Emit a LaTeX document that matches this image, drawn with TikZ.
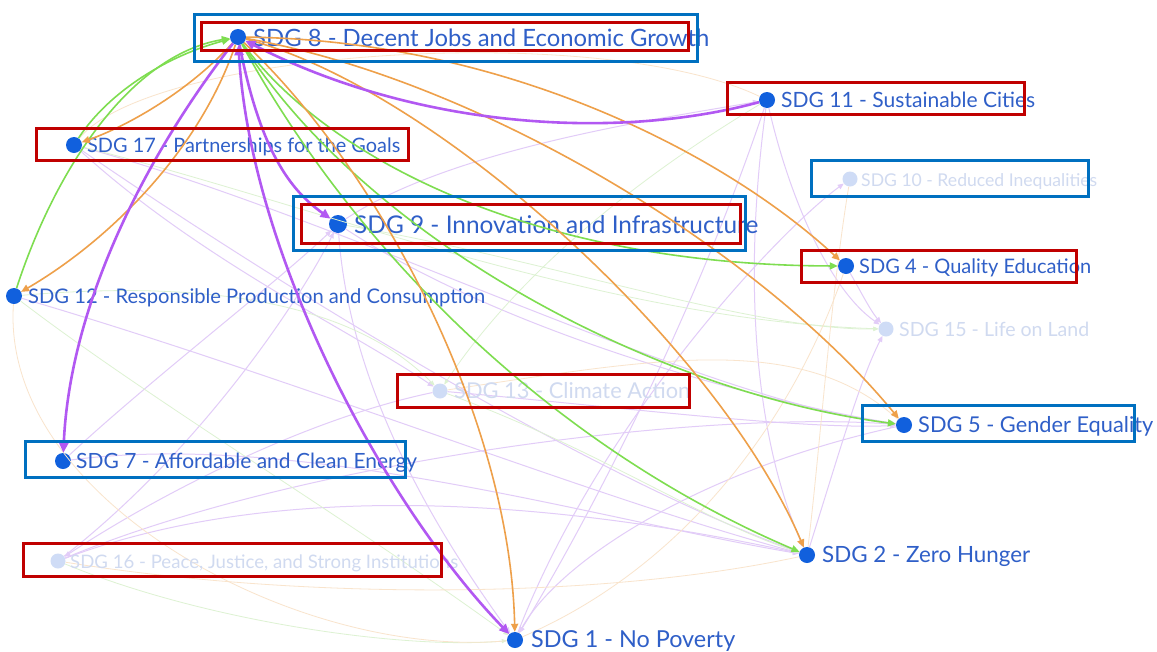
\documentclass[tikz,border=0pt]{standalone}
\usepackage{fontspec}
\setmainfont{Lato}
\usetikzlibrary{arrows.meta}
\definecolor{dotblue}{HTML}{1160DD}
\definecolor{txtblue}{HTML}{2F5FC8}
\definecolor{fdot}{HTML}{CFDCF6}
\definecolor{ftxt}{HTML}{D0DAF0}
\definecolor{gr}{HTML}{7EDD50}
\definecolor{orn}{HTML}{EEA04A}
\definecolor{pur}{HTML}{B258F2}
\definecolor{fpur}{HTML}{E2CCF8}
\definecolor{fgrn}{HTML}{DDF2D2}
\definecolor{forn}{HTML}{F9E4CC}
\definecolor{bbox}{HTML}{0070C0}
\definecolor{rbox}{HTML}{C00000}
\tikzset{
 dot/.style={circle, fill=dotblue, inner sep=0pt, minimum size=16pt},
 fdotst/.style={circle, fill=fdot, inner sep=0pt, minimum size=15pt},
 lbl/.style={anchor=base west, inner sep=0pt, text=txtblue},
 flbl/.style={anchor=base west, inner sep=0pt, text=ftxt},
 ge/.style={draw=gr, line width=1.6pt, -{Triangle[length=8pt,width=7pt]}},
 oe/.style={draw=orn, line width=1.6pt, -{Triangle[length=8pt,width=7pt]}},
 pe/.style={draw=pur, line width=2.6pt, -{Triangle[length=10pt,width=9pt]}},
 fpe/.style={draw=fpur, line width=1pt, -{Triangle[length=6pt,width=5pt]}},
 fge/.style={draw=fgrn, line width=0.8pt, -{Triangle[length=5pt,width=4pt]}},
 foe/.style={draw=forn, line width=0.8pt},
 bluebox/.style={draw=bbox, line width=3pt},
 redbox/.style={draw=rbox, line width=3pt},
}
\begin{document}
\begin{tikzpicture}[x=1pt,y=-1pt]
\useasboundingbox[fill=white] (0,0) rectangle (1157,651);
% dots
\node[dot] (d8) at (238,37) {};
\node[dot] (d11) at (767,100) {};
\node[dot] (d17) at (74,145) {};
\node[fdotst] (d10) at (850,179) {};
\node[dot, minimum size=18pt] (d9) at (338,224) {};
\node[dot] (d4) at (846,266) {};
\node[dot] (d12) at (14,296) {};
\node[fdotst] (d15) at (886,329) {};
\node[fdotst] (d13) at (440,391) {};
\node[dot] (d5) at (904,425) {};
\node[dot] (d7) at (63,461) {};
\node[fdotst] (d16) at (58,561) {};
\node[dot] (d2) at (807,555) {};
\node[dot] (d1) at (515,640) {};

% faint edges
\draw[fpe] (d17) .. controls (300,300) and (600,480) .. (d2);
\draw[fpe] (d17) .. controls (350,220) and (700,400) .. (d5);
\draw[fpe] (d12) .. controls (300,380) and (600,500) .. (d2);
\draw[fpe] (d7) .. controls (300,430) and (600,520) .. (d2);
\draw[fpe] (d16) .. controls (300,470) and (600,510) .. (d2);
\draw[fpe] (d13) .. controls (600,405) and (800,430) .. (d5);
\draw[fpe] (d9) .. controls (500,330) and (750,400) .. (d5);
\draw[fpe] (d11) .. controls (790,200) and (830,290) .. (d15);
\draw[fpe] (d11) .. controls (740,300) and (760,450) .. (d2);
\draw[fpe] (d4) .. controls (860,290) and (870,310) .. (d15);
\draw[fpe] (d2) .. controls (840,450) and (860,380) .. (d15);
\draw[fpe] (d1) .. controls (600,420) and (780,230) .. (d10);
\draw[fpe] (d16) .. controls (200,450) and (300,300) .. (d9);
\draw[fpe] (d7) .. controls (150,380) and (280,280) .. (d9);
\draw[fpe] (d16) .. controls (300,460) and (700,410) .. (d5);
\draw[fpe] (d9) .. controls (350,400) and (450,550) .. (d1);
\draw[fpe] (d11) .. controls (700,300) and (600,500) .. (d1);
\draw[fpe] (d13) .. controls (300,420) and (150,500) .. (d16);
\draw[fpe] (d17) .. controls (200,260) and (350,330) .. (d13);
\draw[fpe] (d5) .. controls (700,470) and (560,560) .. (d1);
\draw[fpe] (d9) .. controls (450,150) and (650,120) .. (d11);
\draw[fge] (d12) .. controls (200,280) and (350,300) .. (d13);
\draw[fge] (d17) .. controls (300,200) and (600,320) .. (d15);
\draw[fge] (d9) .. controls (550,260) and (750,330) .. (d15);
\draw[fge] (d16) .. controls (200,620) and (400,650) .. (d1);
\draw[fge] (d13) .. controls (600,450) and (700,520) .. (d2);
\draw[fge] (d11) .. controls (600,200) and (500,300) .. (d13);
\draw[fge] (d12) .. controls (150,400) and (350,520) .. (d1);
\draw[foe] (d12) .. controls (0,500) and (300,660) .. (d1);
\draw[foe] (d16) .. controls (300,600) and (600,600) .. (d2);
\draw[foe] (d10) .. controls (830,300) and (820,450) .. (d2);
\draw[foe] (d17) .. controls (150,50) and (600,20) .. (d11);
\draw[foe] (d4) .. controls (800,400) and (700,560) .. (d1);
\draw[foe] (d13) .. controls (650,360) and (800,330) .. (d5);

% labels
\node[lbl] (t8) at (253,46) {\resizebox{456pt}{!}{SDG 8 - Decent Jobs and Economic Growth}};
\node[lbl] (t11) at (781,107) {\resizebox{254pt}{!}{SDG 11 - Sustainable Cities}};
\node[lbl] (t17) at (87,152) {\resizebox{313pt}{!}{SDG 17 - Partnerships for the Goals}};
\node[flbl] (t10) at (861,186) {\resizebox{236pt}{!}{SDG 10 - Reduced Inequalities}};
\node[lbl] (t9) at (354,233) {\resizebox{404pt}{!}{SDG 9 - Innovation and Infrastructure}};
\node[lbl] (t4) at (859,273) {\resizebox{232pt}{!}{SDG 4 - Quality Education}};
\node[lbl] (t12) at (28,303) {\resizebox{457pt}{!}{SDG 12 - Responsible Production and Consumption}};
\node[flbl] (t15) at (899,336) {\resizebox{190pt}{!}{SDG 15 - Life on Land}};
\node[flbl] (t13) at (454,398) {\resizebox{236pt}{!}{SDG 13 - Climate Action}};
\node[lbl] (t5) at (918,432) {\resizebox{235pt}{!}{SDG 5 - Gender Equality}};
\node[lbl] (t7) at (76,468) {\resizebox{341pt}{!}{SDG 7 - Affordable and Clean Energy}};
\node[flbl] (t16) at (70,568) {\resizebox{388pt}{!}{SDG 16 - Peace, Justice, and Strong Institutions}};
\node[lbl] (t2) at (822,562) {\resizebox{208pt}{!}{SDG 2 - Zero Hunger}};
\node[lbl] (t1) at (531,647) {\resizebox{204pt}{!}{SDG 1 - No Poverty}};

% bold edges
\draw[ge] (d12) .. controls (55,170) and (130,55) .. (d8);
\draw[ge] (d17) .. controls (110,90) and (170,55) .. (d8);
\draw[ge] (d8) .. controls (320,150) and (520,265) .. (d4);
\draw[ge] (d8) .. controls (360,230) and (640,390) .. (d5);
\draw[ge] (d8) .. controls (360,260) and (560,450) .. (d2);
\draw[oe] (d8) .. controls (190,90) and (130,125) .. (d17);
\draw[oe] (d8) .. controls (200,150) and (110,240) .. (d12);
\draw[oe] (d8) .. controls (500,40) and (720,150) .. (d4);
\draw[oe] (d8) .. controls (480,80) and (760,250) .. (d5);
\draw[oe] (d8) .. controls (440,90) and (720,350) .. (d2);
\draw[oe] (d8) .. controls (380,170) and (510,420) .. (d1);
\draw[pe] (d8) .. controls (150,150) and (70,300) .. (d7);
\draw[pe] (d8) .. controls (260,150) and (290,190) .. (d9);
\draw[pe, {Triangle[length=10pt,width=9pt]}-{Triangle[length=10pt,width=9pt]}] (d8) .. controls (250,250) and (380,500) .. (d1);
\draw[pe] (d11) .. controls (620,140) and (420,130) .. (d8);

% annotation boxes
\draw[bluebox] (194,14) rectangle (697,61);
\draw[bluebox] (811,160) rectangle (1088,196);
\draw[bluebox] (293,196) rectangle (745,250);
\draw[bluebox] (862,405) rectangle (1134,441);
\draw[bluebox] (25,441) rectangle (405,477);
\draw[redbox] (201,22) rectangle (688,50);
\draw[redbox] (727,82) rectangle (1024,114);
\draw[redbox] (36,128) rectangle (408,160);
\draw[redbox] (301,204) rectangle (740,243);
\draw[redbox] (801,250) rectangle (1076,282);
\draw[redbox] (397,374) rectangle (689,407);
\draw[redbox] (23,543) rectangle (441,576);
\end{tikzpicture}
\end{document}
